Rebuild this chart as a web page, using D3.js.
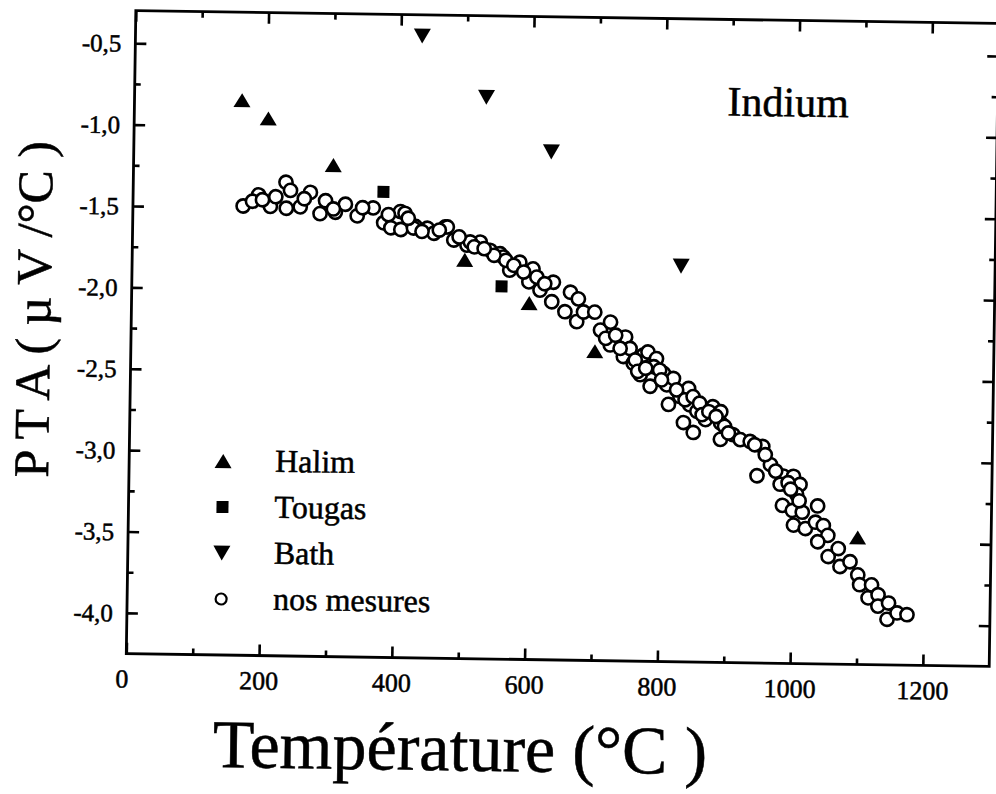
<!DOCTYPE html>
<html><head><meta charset="utf-8">
<script src="https://cdn.jsdelivr.net/npm/d3@7/dist/d3.min.js"></script>
<style>body{margin:0;background:#fff}</style>
</head><body>
<svg id="chart" width="996" height="794"></svg>
<script>
// ---- data ----
const xMajorTicks = [0, 200, 400, 600, 800, 1000, 1200];
const xMinorTicks = [100, 300, 500, 700, 900, 1100];
const yMajorTicks = [-0.5, -1.0, -1.5, -2.0, -2.5, -3.0, -3.5, -4.0];
const yMinorTicks = [-0.75, -1.25, -1.75, -2.25, -2.75, -3.25, -3.75];

const seriesNames = ["Halim", "Tougas", "Bath", "nos mesures"];

const halimT   = [162, 202, 301, 501, 599, 699, 1099];
const halimPTA = [-0.84, -0.95, -1.23, -1.80, -2.06, -2.35, -3.47];

const tougasT   = [377, 557];
const tougasPTA = [-1.39, -1.96];

const bathT   = [432, 530, 629, 827];
const bathPTA = [-0.43, -0.80, -1.13, -1.82];

const mesuresT = [166,189,207,230,231,267,252,290,282,305,320,338,362,378,389,403,404,426,444,454,471,484,504,524,539,
  410,423,474,509,554,180,195,215,237,258,302,346,385,415,559,584,
  569,604,598,615,635,633,661,673,653,671,681,698,707,722,722,745,742,752,757,772,779,792,768,788,783,803,808,811,818,828,
  841,843,834,854,849,867,878,890,890,890,909,920,935,954,942,946,966,986,981,1001,1011,1006,985,1000,1015,1038,1002,1020,
  1035,1047,1054,1039,1055,1070,1073,1088,1100,1103,1121,1116,1131,1131,1147,1145,1160,1175,
  545,563,575,590,610,622,715,730,737,760,764,776,797,800,823,836,848,858,862,872,883,896,902,958,974,993,997,1010,
  436,462,492,515,530];
const mesuresPTA = [-1.49,-1.42,-1.49,-1.34,-1.50,-1.40,-1.49,-1.45,-1.53,-1.52,-1.47,-1.54,-1.49,-1.58,-1.61,-1.51,-1.62,-1.60,-1.61,-1.64,-1.60,-1.68,-1.71,-1.69,-1.74,
  -1.52,-1.61,-1.60,-1.69,-1.76,-1.46,-1.45,-1.43,-1.39,-1.44,-1.50,-1.49,-1.53,-1.55,-1.78,-1.81,
  -1.86,-1.85,-1.93,-1.98,-1.93,-2.05,-1.99,-2.03,-2.11,-2.17,-2.11,-2.11,-2.22,-2.17,-2.31,-2.26,-2.38,-2.33,-2.42,-2.37,-2.35,-2.39,-2.49,-2.44,-2.56,-2.48,-2.55,-2.67,-2.51,-2.62,
  -2.57,-2.67,-2.78,-2.71,-2.84,-2.76,-2.68,-2.71,-2.78,-2.88,-2.85,-2.88,-2.89,-2.92,-2.91,-3.10,-3.03,-3.10,-3.15,-3.10,-3.15,-3.21,-3.28,-3.31,-3.32,-3.28,-3.40,-3.42,
  -3.38,-3.40,-3.46,-3.50,-3.59,-3.54,-3.65,-3.62,-3.70,-3.76,-3.76,-3.84,-3.82,-3.89,-3.87,-3.97,-3.93,-3.94,
  -1.77,-1.80,-1.83,-1.87,-1.90,-1.94,-2.27,-2.25,-2.33,-2.40,-2.47,-2.45,-2.46,-2.52,-2.58,-2.64,-2.62,-2.66,-2.73,-2.71,-2.74,-2.80,-2.84,-2.97,-3.07,-3.14,-3.18,-3.25,
  -1.63,-1.62,-1.66,-1.72,-1.73];

const xTitle = "Température (°C )";
const yTitle = "P T A ( µ V /°C )";
const plotLabel = "Indium";

// ---- layout ----
const svg = d3.select("#chart");
const L = 131, R = 994, T = 17, B = 660;
const x = d3.scaleLinear().domain([0, 1300]).range([L, R]);
const y = d3.scaleLinear().domain([-4.25, -0.3]).range([B, T]);
const font = "'Liberation Serif', 'Times New Roman', serif";
const fmtY = d => d3.format(".1f")(d).replace("−", "-").replace(".", ",");

// whole scanned figure is slightly tilted
const g = svg.append("g").attr("transform", "rotate(0.85 560 340)");

// frame
g.append("rect").attr("x", L).attr("y", T).attr("width", R - L).attr("height", B - T)
  .attr("fill", "none").attr("stroke", "#000").attr("stroke-width", 2.8);

function styleAxis(sel) {
  sel.select(".domain").remove();
  sel.selectAll(".tick line").attr("stroke", "#000").attr("stroke-width", 2.6);
}
const sides = [
  [() => d3.axisBottom(x), `translate(0,${B})`, xMajorTicks, xMinorTicks],
  [() => d3.axisTop(x), `translate(0,${T})`, xMajorTicks, xMinorTicks],
  [() => d3.axisLeft(y), `translate(${L},0)`, yMajorTicks, yMinorTicks],
  [() => d3.axisRight(y), `translate(${R},0)`, yMajorTicks, yMinorTicks]
];
sides.forEach(([mk, tr, maj, min]) => {
  g.append("g").attr("transform", tr)
    .call(mk().tickValues(maj).tickSize(-11).tickSizeOuter(0).tickFormat(""))
    .call(styleAxis);
  g.append("g").attr("transform", tr)
    .call(mk().tickValues(min).tickSize(-6).tickSizeOuter(0).tickFormat(""))
    .call(styleAxis);
});

const heavy = sel => sel.attr("fill", "#000").attr("stroke", "#000").attr("stroke-width", 0.5);

// tick labels
g.append("g").selectAll("text").data(xMajorTicks).join("text")
  .attr("x", d => x(d) - (d === 0 ? 4 : 0)).attr("y", B + 34)
  .attr("text-anchor", "middle").style("font-family", font).style("font-size", "26px")
  .call(heavy).text(d => d);
g.append("g").selectAll("text").data(yMajorTicks).join("text")
  .attr("x", L - 14).attr("y", d => y(d)).attr("dy", "0.35em")
  .attr("text-anchor", "end").style("font-family", font).style("font-size", "25px")
  .call(heavy).text(fmtY);

// axis titles
g.append("text").attr("x", 466).attr("y", 772).attr("text-anchor", "middle")
  .style("font-family", font).style("font-size", "68px").call(heavy).text(xTitle);
g.append("text").attr("transform", "translate(50,317) rotate(-90)").attr("text-anchor", "middle")
  .style("font-family", font).style("font-size", "50px").call(heavy).text(yTitle);
g.append("text").attr("x", 724).attr("y", 113)
  .style("font-family", font).style("font-size", "42px").call(heavy).text(plotLabel);

// symbols
function triPath(w, h, up) {
  return { draw(ctx) {
    const s = up ? 1 : -1;
    ctx.moveTo(0, -s * h / 2); ctx.lineTo(w / 2, s * h / 2); ctx.lineTo(-w / 2, s * h / 2); ctx.closePath();
  }};
}
function sqPath(a) { return { draw(ctx) { ctx.rect(-a / 2, -a / 2, a, a); } }; }
const upTri = d3.symbol().type(triPath(17, 14, true))();
const downTri = d3.symbol().type(triPath(17, 15, false))();
const square = d3.symbol().type(sqPath(12))();

const pts = (ts, vs) => ts.map((t, i) => [t, vs[i]]);
g.append("g").selectAll("path").data(pts(halimT, halimPTA)).join("path")
  .attr("d", upTri).attr("transform", d => `translate(${x(d[0])},${y(d[1])})`).attr("fill", "#000");
g.append("g").selectAll("path").data(pts(tougasT, tougasPTA)).join("path")
  .attr("d", square).attr("transform", d => `translate(${x(d[0])},${y(d[1])})`).attr("fill", "#000");
g.append("g").selectAll("path").data(pts(bathT, bathPTA)).join("path")
  .attr("d", downTri).attr("transform", d => `translate(${x(d[0])},${y(d[1])})`).attr("fill", "#000");
g.append("g").selectAll("circle").data(pts(mesuresT, mesuresPTA)).join("circle")
  .attr("cx", d => x(d[0])).attr("cy", d => y(d[1])).attr("r", 6.6)
  .attr("fill", "#fff").attr("stroke", "#000").attr("stroke-width", 2.6);

// legend
const lg = g.append("g");
const legY = [466, 512, 558, 604];
const legSym = [upTri, square, downTri, null];
seriesNames.forEach((n, i) => {
  if (legSym[i]) lg.append("path").attr("d", legSym[i]).attr("transform", `translate(225,${legY[i]})`).attr("fill", "#000");
  else lg.append("circle").attr("cx", 225).attr("cy", legY[i]).attr("r", 5.5)
    .attr("fill", "#fff").attr("stroke", "#000").attr("stroke-width", 2.2);
  lg.append("text").attr("x", 277).attr("y", legY[i] + 10)
    .style("font-family", font).style("font-size", "32px").call(heavy).text(n);
});
</script>
</body></html>
